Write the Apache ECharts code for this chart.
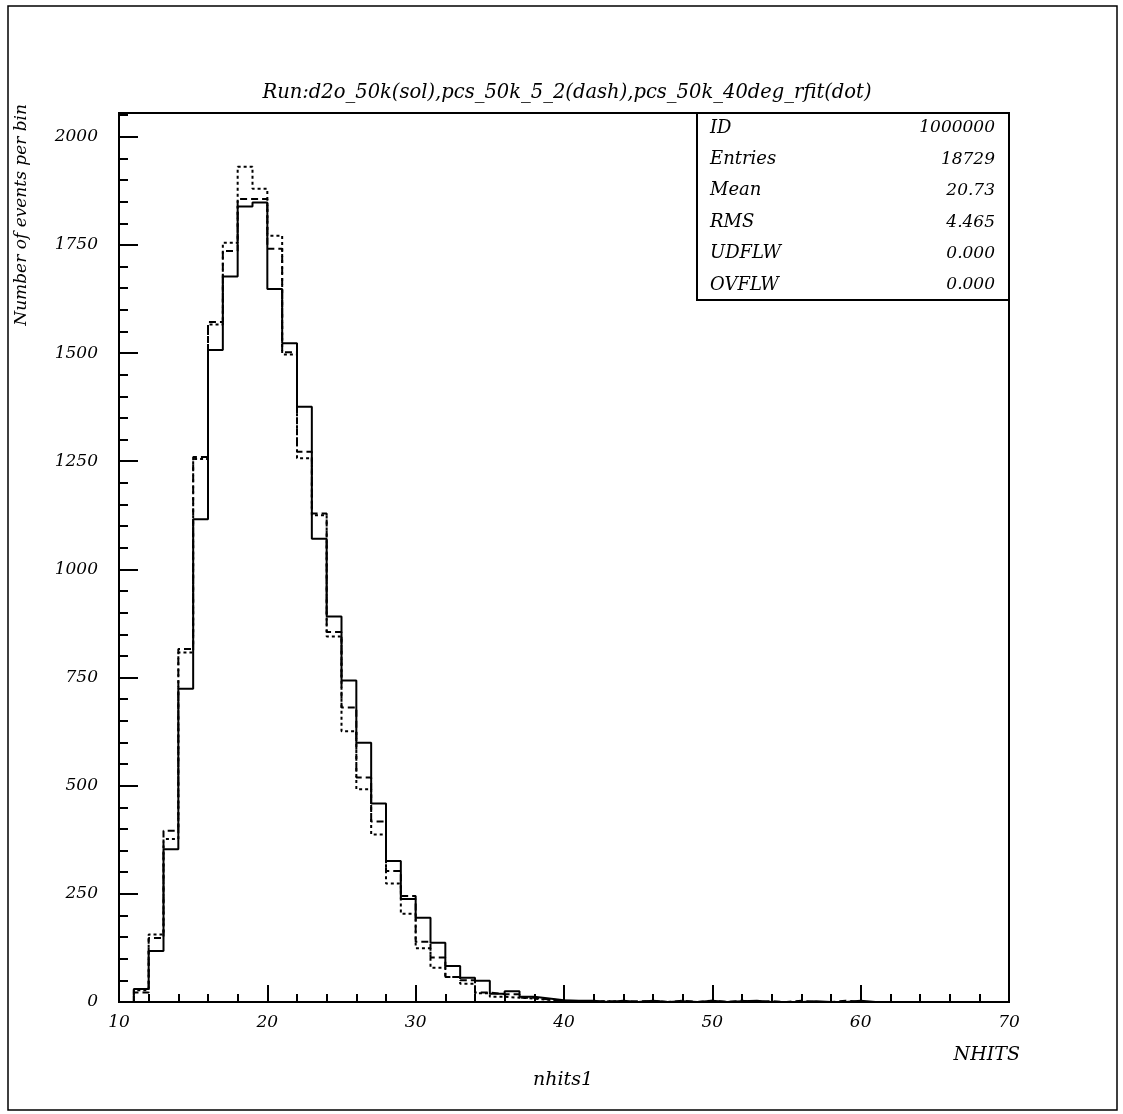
<!DOCTYPE html>
<html><head><meta charset="utf-8">
<script src="https://cdn.jsdelivr.net/npm/echarts@6/dist/echarts.min.js"></script>
<style>html,body{margin:0;padding:0;background:#fff}#c{width:1123px;height:1114px}</style>
</head><body><div id="c"></div>
<script>
// ---- data ----
const binStart = 10;      // first bin low edge (NHITS)
const binWidth = 1;
// bin contents for bins 10..69
const solidVals = [0,30,118,353,724,1116,1507,1677,1839,1848,
                   1648,1523,1376,1071,891,743,599,459,326,238,
                   195,137,83,56,49,19,25,12,8,4,
                   3,3,0,3,0,3,0,2,0,3,
                   0,2,3,0,0,0,2,0,0,3,
                   0,0,0,0,0,0,0,0,0,0];
const dashVals  = [0,22,148,396,816,1260,1572,1736,1856,1856,
                   1741,1502,1272,1129,855,681,519,417,303,245,
                   139,103,58,50,22,18,18,10,6,3,
                   2,0,2,0,2,2,0,3,0,3,
                   0,3,0,2,0,3,0,0,3,0,
                   0,0,0,0,0,0,0,0,0,0];
const dotVals   = [0,27,156,377,808,1255,1566,1755,1931,1880,
                   1771,1497,1257,1125,845,626,492,387,274,204,
                   124,79,58,42,20,12,10,8,5,2,
                   0,0,2,0,0,2,0,0,0,0,
                   0,0,0,0,0,0,0,0,0,0,
                   0,0,0,0,0,0,0,0,0,0];
const xTickMajor = 10, xTickMinor = 2, xMin = 10, xMax = 70;
const yTickMajor = 250, yTickMinor = 50, yMin = 0, yMax = 2055;
const titleText = 'Run:d2o_50k(sol),pcs_50k_5_2(dash),pcs_50k_40deg_rfit(dot)';
const yName = 'Number of events per bin';
const xName = 'NHITS';
const xSub = 'nhits1';
const statNames = ['ID','Entries','Mean','RMS','UDFLW','OVFLW'];
const statValues = ['1000000','18729','20.73','4.465','0.000','0.000'];

// ---- build ----
function stepData(vals){
  const d = [[binStart, 0]];
  vals.forEach((v,i)=>d.push([binStart + i*binWidth, v]));
  const end = binStart + vals.length*binWidth;
  d.push([end, vals[vals.length-1]]);
  d.push([end, 0]);
  return d;
}
const FONT = 'DejaVu Serif';
const black = '#000';
const chart = echarts.init(document.getElementById('c'), null, {renderer:'canvas'});
const G = {left:119, right:114, top:113, bottom:112};
const txt = (o)=>Object.assign({fill:black, fontFamily:FONT, fontStyle:'italic'}, o);

const graphics = [
  {type:'rect', shape:{x:8,y:6,width:1109,height:1104}, style:{fill:null, stroke:black, lineWidth:1.5}, z:-1, silent:true},
  {type:'text', x:567, y:93, style:txt({text:titleText, fontSize:19.5, textAlign:'center', textVerticalAlign:'middle'})},
  {type:'text', x:22, y:104, rotation:Math.PI/2, style:txt({text:yName, fontSize:17, textAlign:'right', textVerticalAlign:'middle'})},
  {type:'text', x:1020, y:1055, style:txt({text:xName, fontSize:19, textAlign:'right', textVerticalAlign:'middle'})},
  {type:'text', x:563, y:1080, style:txt({text:xSub, fontSize:19, textAlign:'center', textVerticalAlign:'middle'})},
  {type:'rect', shape:{x:697,y:113,width:312,height:187}, style:{fill:'#fff', stroke:black, lineWidth:2}, z:10}
];
statNames.forEach((n,i)=>{
  const y = 128 + i*31.4;
  graphics.push({type:'text', x:710, y:y, z:11, style:txt({text:n, fontSize:18, textAlign:'left', textVerticalAlign:'middle'})});
  graphics.push({type:'text', x:995, y:y, z:11, style:txt({text:statValues[i], fontSize:17, textAlign:'right', textVerticalAlign:'middle'})});
});

const axisFont = {color:black, fontFamily:FONT, fontStyle:'italic', fontSize:17};
const option = {
  animation:false,
  backgroundColor:'#fff',
  grid:{left:G.left, right:G.right, top:G.top, bottom:G.bottom, show:true, borderColor:black, borderWidth:2, backgroundColor:'transparent'},
  xAxis:[
    {type:'value', min:xMin, max:xMax, interval:xTickMajor, position:'bottom',
     axisLine:{lineStyle:{color:black,width:2}},
     axisTick:{inside:true, length:17, lineStyle:{color:black,width:2}},
     axisLabel:Object.assign({margin:12}, axisFont),
     splitLine:{show:false}},
    {type:'value', min:xMin, max:xMax, interval:xTickMinor, position:'bottom',
     axisLine:{show:false},
     axisTick:{inside:true, length:8, lineStyle:{color:black,width:2}},
     axisLabel:{show:false}, splitLine:{show:false}}
  ],
  yAxis:[
    {type:'value', min:yMin, max:yMax, interval:yTickMajor, position:'left',
     axisLine:{show:true, lineStyle:{color:black,width:2}},
     axisTick:{show:true, inside:true, length:19, lineStyle:{color:black,width:2}},
     axisLabel:Object.assign({margin:21, showMaxLabel:false, formatter:(v)=> (v % yTickMajor === 0 ? String(v) : '')}, axisFont),
     splitLine:{show:false}},
    {type:'value', min:yMin, max:yMax, interval:yTickMinor, position:'left',
     axisLine:{show:false},
     axisTick:{show:true, inside:true, length:9, lineStyle:{color:black,width:2}},
     axisLabel:{show:false}, splitLine:{show:false}}
  ],
  series:[
    {name:'sol', type:'line', step:'end', data:stepData(solidVals), symbol:'none', xAxisIndex:0, yAxisIndex:0,
     lineStyle:{color:black, width:2, type:'solid'}, z:5},
    {name:'dash', type:'line', step:'end', data:stepData(dashVals), symbol:'none', xAxisIndex:0, yAxisIndex:0,
     lineStyle:{color:black, width:2, type:[7,4]}, z:4},
    {name:'dot', type:'line', step:'end', data:stepData(dotVals), symbol:'none', xAxisIndex:0, yAxisIndex:0,
     lineStyle:{color:black, width:2, type:[3,3]}, z:4}
  ],
  graphic:graphics
};
chart.setOption(option);
</script></body></html>
